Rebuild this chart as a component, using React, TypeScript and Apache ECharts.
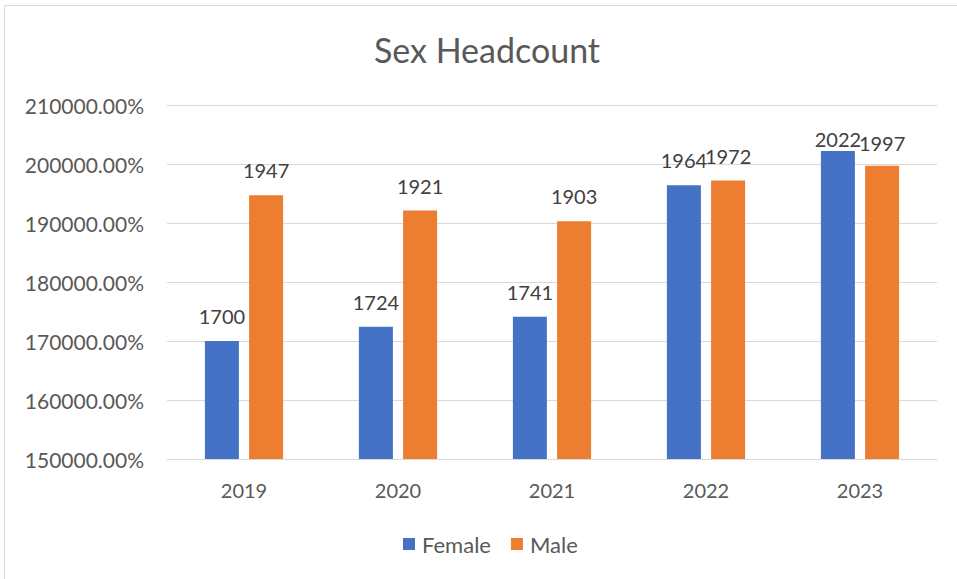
import React, { useEffect, useRef } from "react";
import * as echarts from "echarts";

const categories = ["2019", "2020", "2021", "2022", "2023"];
const femaleValues = [1700, 1724, 1741, 1964, 2022];
const maleValues = [1947, 1921, 1903, 1972, 1997];
const femaleLabelDistance = [15, 15, 15, 15, 2];
const maleLabelDistance = [15, 15, 15, 15, 13];
const yMin = 1500;
const yMax = 2100;
const yInterval = 100;

const FONT = "Lato, 'Open Sans', sans-serif";
const TEXT_COLOR = "#595959";

export default function App() {
  const ref = useRef<HTMLDivElement>(null);
  useEffect(() => {
    if (!ref.current) return;
    const chart = echarts.init(ref.current, undefined, { renderer: "svg" });
    const mk = (vals: number[], dists: number[]) =>
      vals.map((v, i) => ({ value: v, label: { distance: dists[i] } }));
    chart.setOption({
      animation: false,
      backgroundColor: "#ffffff",
      textStyle: { fontFamily: FONT },
      title: {
        text: "Sex Headcount",
        left: 487,
        top: 32,
        padding: 0,
        textAlign: "center",
        textStyle: { fontFamily: FONT, fontSize: 34, fontWeight: "normal", color: TEXT_COLOR },
      },
      graphic: [
        {
          type: "rect",
          shape: { x: 4.5, y: 5.5, width: 1200, height: 1200 },
          style: { fill: "none", stroke: "#d9d9d9", lineWidth: 1 },
          silent: true,
        },
      ],
      legend: {
        data: ["Female", "Male"],
        left: 403,
        top: 533,
        padding: 0,
        itemWidth: 12,
        itemHeight: 12,
        itemGap: 20,
        icon: "rect",
        textStyle: { fontFamily: FONT, fontSize: 22, color: TEXT_COLOR, padding: [0, 0, 0, 2] },
      },
      grid: { left: 167, right: 20, top: 105, bottom: 120, containLabel: false },
      xAxis: {
        type: "category",
        data: categories,
        axisLine: { show: true, lineStyle: { color: "#d9d9d9", width: 1 } },
        axisTick: { show: false },
        axisLabel: { fontFamily: FONT, fontSize: 20, color: TEXT_COLOR, margin: 21 },
        splitLine: { show: false },
      },
      yAxis: {
        type: "value",
        min: yMin,
        max: yMax,
        interval: yInterval,
        axisLine: { show: false },
        axisTick: { show: false },
        axisLabel: {
          fontFamily: FONT,
          fontSize: 21,
          color: TEXT_COLOR,
          margin: 23,
          formatter: (v: number) => (v * 100).toFixed(2) + "%",
        },
        splitLine: { show: true, lineStyle: { color: "#d9d9d9", width: 1 } },
      },
      series: [
        {
          name: "Female",
          type: "bar",
          data: mk(femaleValues, femaleLabelDistance),
          barWidth: 34,
          barGap: "30%",
          itemStyle: { color: "#4472C4" },
          label: { show: true, position: "top", fontFamily: FONT, fontSize: 20, color: "#404040" },
        },
        {
          name: "Male",
          type: "bar",
          data: mk(maleValues, maleLabelDistance),
          barWidth: 34,
          barGap: "30%",
          itemStyle: { color: "#ED7D31" },
          label: { show: true, position: "top", fontFamily: FONT, fontSize: 20, color: "#404040" },
        },
      ],
    });
    return () => chart.dispose();
  }, []);
  return (
    <div
      ref={ref}
      style={{ position: "fixed", left: 0, top: 0, width: 957, height: 579 }}
    />
  );
}
